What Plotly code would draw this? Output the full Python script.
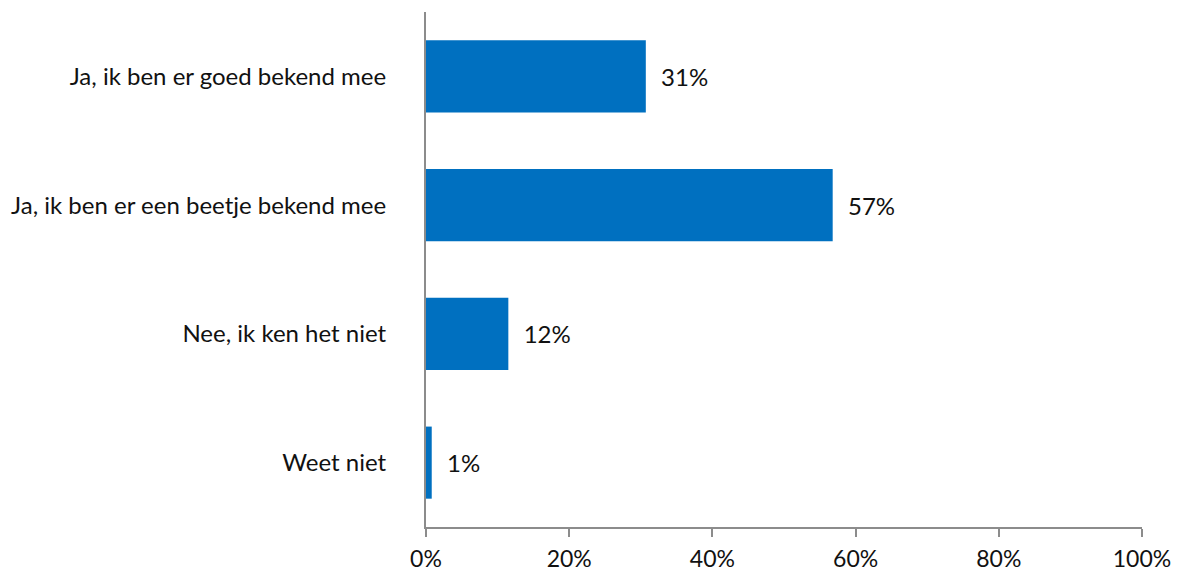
import plotly.graph_objects as go

categories = ["Ja, ik ben er goed bekend mee",
              "Ja, ik ben er een beetje bekend mee",
              "Nee, ik ken het niet",
              "Weet niet"]
values = [30.7, 56.8, 11.5, 0.8]
labels = ["31%", "57%", "12%", "1%"]
tick_vals = [0, 20, 40, 60, 80, 100]
tick_text = ["0%", "20%", "40%", "60%", "80%", "100%"]

FONT = "Lato"
TXT = "#111111"
fig = go.Figure(go.Bar(
    x=values, y=categories, orientation="h",
    marker=dict(color="#0070C0", line=dict(width=0)),
    text=["  " + l for l in labels], textposition="outside",
    textfont=dict(family=FONT, size=24, color=TXT),
    cliponaxis=False, width=0.56,
))
fig.update_layout(
    width=1180, height=573,
    margin=dict(l=418, r=46, t=4, b=54, autoexpand=False),
    paper_bgcolor="white", plot_bgcolor="white",
    showlegend=False,
    font=dict(family=FONT, size=24, color=TXT),
)
fig.update_xaxes(range=[0, 100], tickvals=tick_vals, ticktext=tick_text,
                 showgrid=False, zeroline=False, showline=True,
                 linecolor="#8c8c8c", linewidth=2, ticks="outside",
                 ticklen=8, tickwidth=2, tickcolor="#8c8c8c",
                 ticklabelstandoff=2,
                 tickfont=dict(family=FONT, size=23, color=TXT))
fig.update_yaxes(categoryorder="array", categoryarray=categories[::-1],
                 showgrid=False, zeroline=False, showline=True,
                 linecolor="#8c8c8c", linewidth=2, ticks="",
                 ticklabelstandoff=33,
                 tickfont=dict(family=FONT, size=24, color=TXT))
fig.write_html("out.html")
